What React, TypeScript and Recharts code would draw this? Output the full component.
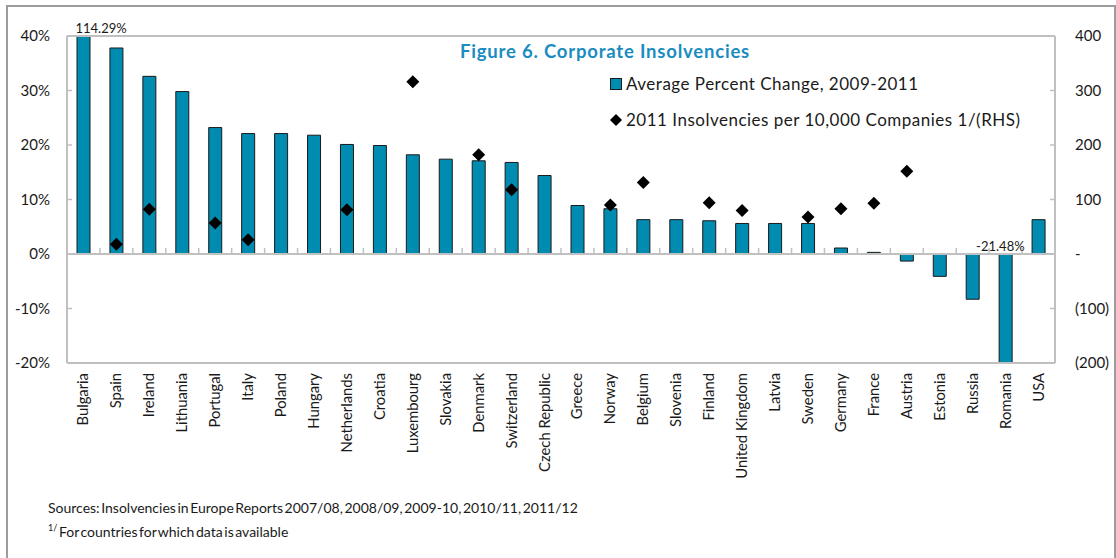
import React from 'react';
import {
  ComposedChart,
  Bar,
  Scatter,
  XAxis,
  YAxis,
  ReferenceLine,
  ReferenceDot,
  Legend,
} from 'recharts';

// ---------- data ----------
const countries = [
  'Bulgaria', 'Spain', 'Ireland', 'Lithuania', 'Portugal', 'Italy', 'Poland', 'Hungary',
  'Netherlands', 'Croatia', 'Luxembourg', 'Slovakia', 'Denmark', 'Switzerland',
  'Czech Republic', 'Greece', 'Norway', 'Belgium', 'Slovenia', 'Finland', 'United Kingdom',
  'Latvia', 'Sweden', 'Germany', 'France', 'Austria', 'Estonia', 'Russia', 'Romania', 'USA',
];

// Average percent change 2009-2011 (left axis, %)
const avgPercentChange = [
  114.29, 37.8, 32.6, 29.8, 23.2, 22.1, 22.1, 21.8, 20.1, 19.9, 18.2, 17.4, 17.1, 16.8,
  14.4, 8.9, 8.3, 6.3, 6.3, 6.1, 5.6, 5.6, 5.6, 1.1, 0.3, -1.3, -4.1, -8.3, -21.48, 6.3,
];

// 2011 insolvencies per 10,000 companies (right axis)
const insolvenciesPer10k: (number | null)[] = [
  null, 18, 82, null, 57, 26, null, null, 81, null, 316, null, 182, 118, null, null, 90,
  131, null, 94, 80, null, 68, 83, 93, 152, null, null, null, null,
];

const leftTicks = [-20, -10, 0, 10, 20, 30, 40];
const rightTicks = [-200, -100, 0, 100, 200, 300, 400];
const leftDomain = [-20, 40];
const rightDomain = [-200, 400];

const seriesNames = [
  'Average Percent Change, 2009-2011',
  '2011 Insolvencies per 10,000 Companies  1/(RHS)',
];
const title = 'Figure 6. Corporate Insolvencies';
const sourceLine = 'Sources: Insolvencies in Europe Reports 2007/08, 2008/09, 2009-10, 2010/11, 2011/12';
const footnoteMark = '1/';
const footnoteText = ' For countries for which data is available';

const data = countries.map((name, i) => ({
  name,
  change: avgPercentChange[i],
  ins: insolvenciesPer10k[i],
}));

// overflow labels (values beyond the axis range)
const overTop = data.find((d) => d.change > leftDomain[1]);
const overBottom = data.find((d) => d.change < leftDomain[0]);

// ---------- styles ----------
const FONT = "Lato, 'Open Sans', 'DejaVu Sans', sans-serif";
const BAR = '#008BB1';
const BORDER = '#C0C0C0';
const TEXT = '#1a1a1a';
const TITLE = '#1A8CBF';

const fmtRight = (v: number) => (v === 0 ? '-' : v < 0 ? `(${-v})` : `${v}`);

const LeftTick = (p: any) => {
  const { x, y, payload } = p;
  const v = payload.value;
  const inner = v !== leftDomain[0] && v !== leftDomain[1] && v !== 0;
  return (
    <g>
      {inner && <line x1={x} x2={x + 5} y1={y} y2={y} stroke={BORDER} strokeWidth={1.5} />}
      <text x={x - 17} y={y} dy={5} textAnchor="end" fontSize={15} fill={TEXT} fontFamily={FONT}>
        {`${v}%`}
      </text>
    </g>
  );
};

const RightTick = (p: any) => {
  const { x, y, payload } = p;
  const v = payload.value;
  const inner = v !== rightDomain[0] && v !== rightDomain[1] && v !== 0;
  return (
    <g>
      {inner && <line x1={x - 5} x2={x} y1={y} y2={y} stroke={BORDER} strokeWidth={1.5} />}
      <text x={x + 20} y={y} dy={5} textAnchor="start" fontSize={15} fill={TEXT} fontFamily={FONT}>
        {fmtRight(v)}
      </text>
    </g>
  );
};

const XTick = (p: any) => {
  const { x, y, payload } = p;
  return (
    <text
      transform={`rotate(-90, ${x}, ${y})`}
      x={x}
      y={y}
      dy={5}
      textAnchor="end"
      fontSize={14.8}
      fill={TEXT}
      fontFamily={FONT}
    >
      {payload.value}
    </text>
  );
};

const ZeroLine = (p: any) => {
  const { x1, x2, y1 } = p;
  const n = countries.length;
  const step = (x2 - x1) / n;
  const marks = [];
  for (let i = 1; i < n; i++) {
    const xx = x1 + step * i;
    marks.push(<line key={i} x1={xx} x2={xx} y1={y1 - 6} y2={y1} stroke={BORDER} strokeWidth={1.5} />);
  }
  return (
    <g>
      <line x1={x1} x2={x2} y1={y1} y2={y1} stroke={BORDER} strokeWidth={2} />
      {marks}
    </g>
  );
};

const Diamond = (p: any) => {
  const { cx, cy, payload } = p;
  if (!payload || payload.ins == null || cx == null || cy == null || isNaN(cy)) return <g />;
  const r = 6.5;
  return (
    <polygon
      points={`${cx},${cy - r} ${cx + r},${cy} ${cx},${cy + r} ${cx - r},${cy}`}
      fill="#000"
    />
  );
};

const LegendContent = () => (
  <div
    style={{
      fontFamily: FONT,
      fontSize: 17,
      letterSpacing: 0.5,
      color: TEXT,
      lineHeight: '20px',
      whiteSpace: 'nowrap',
    }}
  >
    <div style={{ display: 'flex', alignItems: 'center', height: 20 }}>
      <svg width={15} height={14} style={{ marginRight: 1 }}>
        <rect x={0.5} y={1.5} width={11} height={11} fill={BAR} stroke="#1a1a1a" strokeWidth={1} />
      </svg>
      <span>{seriesNames[0]}</span>
    </div>
    <div style={{ display: 'flex', alignItems: 'center', height: 20, marginTop: 16 }}>
      <svg width={15} height={14} style={{ marginRight: 1 }}>
        <polygon points="6,1 12,7 6,13 0,7" fill="#000" />
      </svg>
      <span>{seriesNames[1]}</span>
    </div>
  </div>
);

const TopLabel = (p: any) => {
  const { viewBox } = p;
  if (!viewBox || !overTop) return null;
  return (
    <text x={viewBox.x - 8} y={viewBox.y - 3} fontSize={13} fill={TEXT} fontFamily={FONT} textAnchor="start">
      {`${overTop.change.toFixed(2)}%`}
    </text>
  );
};

const BottomLabel = (p: any) => {
  const { viewBox } = p;
  if (!viewBox || !overBottom) return null;
  return (
    <text x={viewBox.x + 19} y={viewBox.y - 3} fontSize={13} fill={TEXT} fontFamily={FONT} textAnchor="end">
      {`${overBottom.change.toFixed(2)}%`}
    </text>
  );
};

export default function App() {
  return (
    <div
      style={{
        position: 'absolute',
        left: 0,
        top: 0,
        width: 1116,
        height: 558,
        overflow: 'hidden',
        background: '#fff',
        fontFamily: FONT,
      }}
    >
      {/* outer frame */}
      <div
        style={{
          position: 'absolute',
          left: 6,
          top: 5,
          width: 1110,
          height: 600,
          boxSizing: 'border-box',
          border: '2px solid #9c9c9c',
        }}
      />
      <div style={{ position: 'absolute', left: 0, top: 0 }}>
        <ComposedChart
          width={1116}
          height={558}
          data={data}
          margin={{ top: 36, right: 7, bottom: 45, left: 7 }}
        >
          <XAxis
            dataKey="name"
            xAxisId={0}
            interval={0}
            tickLine={false}
            tickSize={0}
            tickMargin={10}
            height={150}
            axisLine={{ stroke: BORDER, strokeWidth: 2 }}
            tick={<XTick />}
          />
          <YAxis
            yAxisId="left"
            orientation="left"
            width={60}
            domain={leftDomain}
            ticks={leftTicks}
            allowDataOverflow
            tickLine={false}
            tickSize={0}
            tickMargin={0}
            axisLine={{ stroke: BORDER, strokeWidth: 2 }}
            tick={<LeftTick />}
          />
          <YAxis
            yAxisId="right"
            orientation="right"
            width={54}
            domain={rightDomain}
            ticks={rightTicks}
            allowDataOverflow
            tickLine={false}
            tickSize={0}
            tickMargin={0}
            axisLine={{ stroke: BORDER, strokeWidth: 2 }}
            tick={<RightTick />}
          />
          <ReferenceLine yAxisId="left" y={leftDomain[1]} stroke={BORDER} strokeWidth={2} />
          <ReferenceLine yAxisId="left" y={0} shape={ZeroLine} />
          <Bar
            yAxisId="left"
            dataKey="change"
            name={seriesNames[0]}
            fill={BAR}
            stroke="#1a1a1a"
            strokeWidth={1}
            barSize={13}
            isAnimationActive={false}
          />
          <Scatter
            yAxisId="right"
            dataKey="ins"
            name={seriesNames[1]}
            shape={Diamond}
            isAnimationActive={false}
          />
          {overTop && (
            <ReferenceDot
              yAxisId="left"
              x={overTop.name}
              y={leftDomain[1]}
              r={0}
              stroke="none"
              label={<TopLabel />}
            />
          )}
          {overBottom && (
            <ReferenceDot
              yAxisId="left"
              x={overBottom.name}
              y={0}
              r={0}
              stroke="none"
              label={<BottomLabel />}
            />
          )}
          <Legend
            layout="horizontal"
            verticalAlign="middle"
            align="center"
            content={<LegendContent />}
            wrapperStyle={{ left: 610, top: 74, width: 'auto' }}
          />
        </ComposedChart>
      </div>
      {/* title */}
      <div
        style={{
          position: 'absolute',
          left: 460,
          top: 40,
          fontSize: 18.5,
          letterSpacing: 0.8,
          fontWeight: 700,
          color: TITLE,
          fontFamily: FONT,
          whiteSpace: 'nowrap',
        }}
      >
        {title}
      </div>
      {/* sources */}
      <div
        style={{
          position: 'absolute',
          left: 48,
          top: 498,
          fontSize: 14,
          lineHeight: '20px',
          color: TEXT,
          fontFamily: FONT,
          whiteSpace: 'nowrap',
          wordSpacing: -2,
        }}
      >
        <div>{sourceLine}</div>
        <div>
          <sup style={{ fontSize: 9 }}>{footnoteMark}</sup>
          {footnoteText}
        </div>
      </div>
    </div>
  );
}
